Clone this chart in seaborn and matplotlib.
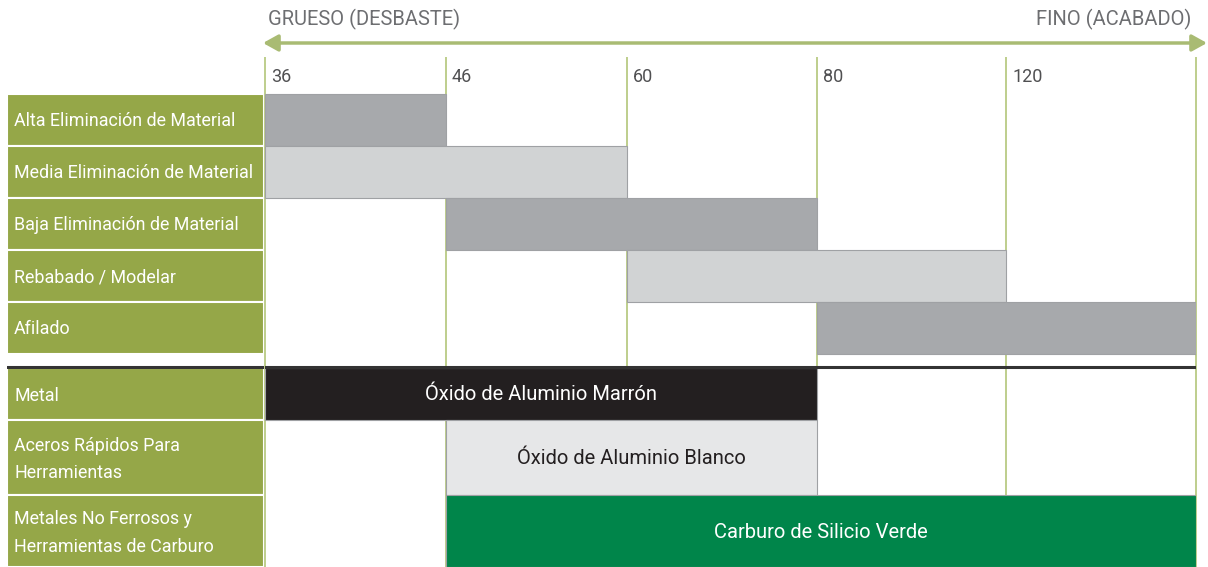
import numpy as np
import pandas as pd
import seaborn as sns
import matplotlib.pyplot as plt
from matplotlib.patches import FancyArrowPatch

# Granos (escala superior) - 'fin' = borde derecho despues de 120
GRITS = ['36', '46', '60', '80', '120']

TASKS = ['Alta Eliminación de Material', 'Media Eliminación de Material',
         'Baja Eliminación de Material', 'Rebabado / Modelar', 'Afilado']
TASK_START = ['36', '36', '46', '60', '80']
TASK_END = ['46', '60', '80', '120', 'fin']

MATERIALS = ['Metal', 'Aceros Rápidos Para\nHerramientas',
             'Metales No Ferrosos y\nHerramientas de Carburo']
ABRASIVES = ['Óxido de Aluminio Marrón', 'Óxido de Aluminio Blanco',
             'Carburo de Silicio Verde']
MAT_START = ['36', '46', '46']
MAT_END = ['80', '80', 'fin']

# estilos
OLIVE = '#95a748'
GRID = '#b9ca84'
TASK_COLORS = ['#a7a9ac', '#d1d3d4', '#a7a9ac', '#d1d3d4', '#a7a9ac']
MAT_COLORS = ['#231f20', '#e6e7e8', '#00854a']
MAT_TEXT = ['white', '#231f20', 'white']

# layout en pixeles (figura 1208x567)
W, H = 1208, 567
X0, X1 = 265, 1196
COL_W = [181, 181, 190, 189, 190]   # ancho de cada columna de grano
TASK_TOP, TASK_H = 94, 52
MAT_TOPS = [368, 420, 495]
MAT_HS = [52, 75, 72]
SEP_Y = 367
EDGES = np.concatenate([[0], np.cumsum(COL_W)])


def pos(g):
    i = GRITS.index(g) if g in GRITS else len(GRITS)
    return EDGES[i]


def main():
    sns.set_theme(style='white')
    plt.rcParams['font.family'] = ['Roboto', 'DejaVu Sans']

    tasks = pd.DataFrame({'task': TASKS, 'start': [pos(g) for g in TASK_START],
                          'end': [pos(g) for g in TASK_END]})
    tasks['top'] = TASK_TOP + TASK_H * np.arange(len(tasks))
    mats = pd.DataFrame({'mat': MATERIALS, 'abr': ABRASIVES,
                         'start': [pos(g) for g in MAT_START],
                         'end': [pos(g) for g in MAT_END],
                         'top': MAT_TOPS, 'h': MAT_HS})

    fig = plt.figure(figsize=(W / 100, H / 100), dpi=100)
    ax = fig.add_axes([X0 / W, 0, (X1 - X0) / W, 1])
    lab = fig.add_axes([7 / W, 0, (264 - 7) / W, 1])

    ax.set_xlim(0, EDGES[-1])
    ax.set_ylim(H, 0)
    lab.set_xlim(0, 257)
    lab.set_ylim(H, 0)
    for a in (ax, lab):
        a.axis('off')

    # lineas verticales de grano
    ax.vlines(EDGES, 57, H, color=GRID, lw=1.3, zorder=0, clip_on=False)
    for g in GRITS:
        ax.text(pos(g) + 6, 77, g, ha='left', va='center', fontsize=13,
                color='#505052')

    # barras de tareas
    ax.barh(tasks['top'] + TASK_H / 2, tasks['end'] - tasks['start'],
            left=tasks['start'], height=TASK_H, color=TASK_COLORS,
            edgecolor='#9fa1a4', lw=0.8, zorder=2)
    lab.barh(tasks['top'] + TASK_H / 2, 257, left=0, height=TASK_H,
             color=OLIVE, edgecolor='white', lw=1.5)
    for _, r in tasks.iterrows():
        lab.text(7, r['top'] + TASK_H / 2 + 1, r['task'], ha='left', va='center',
                 color='white', fontsize=12.9)

    # barras de materiales / abrasivos
    ax.barh(mats['top'] + mats['h'] / 2, mats['end'] - mats['start'],
            left=mats['start'], height=mats['h'], color=MAT_COLORS,
            edgecolor='#9fa1a4', lw=0.8, zorder=2)
    lab.barh(mats['top'] + mats['h'] / 2, 257, left=0, height=mats['h'],
             color=OLIVE, edgecolor='white', lw=1.5)
    for i, r in mats.iterrows():
        yc = r['top'] + r['h'] / 2
        ax.text((r['start'] + r['end']) / 2, yc + 1, r['abr'], ha='center',
                va='center', color=MAT_TEXT[i], fontsize=14.5, zorder=3)
        lab.text(7, yc + 2, r['mat'], ha='left', va='center', color='white',
                 fontsize=12.9, linespacing=1.68)

    # separador negro
    ax.axhline(SEP_Y, color='#333333', lw=2.2, zorder=4)
    lab.axhline(SEP_Y, color='#333333', lw=2.2, zorder=4)

    # flecha y titulos
    fig.patches.append(FancyArrowPatch(
        (263 / W, 1 - 43 / H), (1 - 1 / W, 1 - 43 / H),
        transform=fig.transFigure, arrowstyle='<|-|>,head_length=9,head_width=5',
        color='#a9bb73', lw=2.5, shrinkA=0, shrinkB=0))
    fig.text(268 / W, 1 - 19 / H, 'GRUESO (DESBASTE)', ha='left', va='center',
             color='#6d6e71', fontsize=14.5)
    fig.text(1191 / W, 1 - 19 / H, 'FINO (ACABADO)', ha='right', va='center',
             color='#6d6e71', fontsize=14.5)

    fig.savefig('out.png', dpi=100, facecolor='white')
    plt.close(fig)


if __name__ == '__main__':
    main()
